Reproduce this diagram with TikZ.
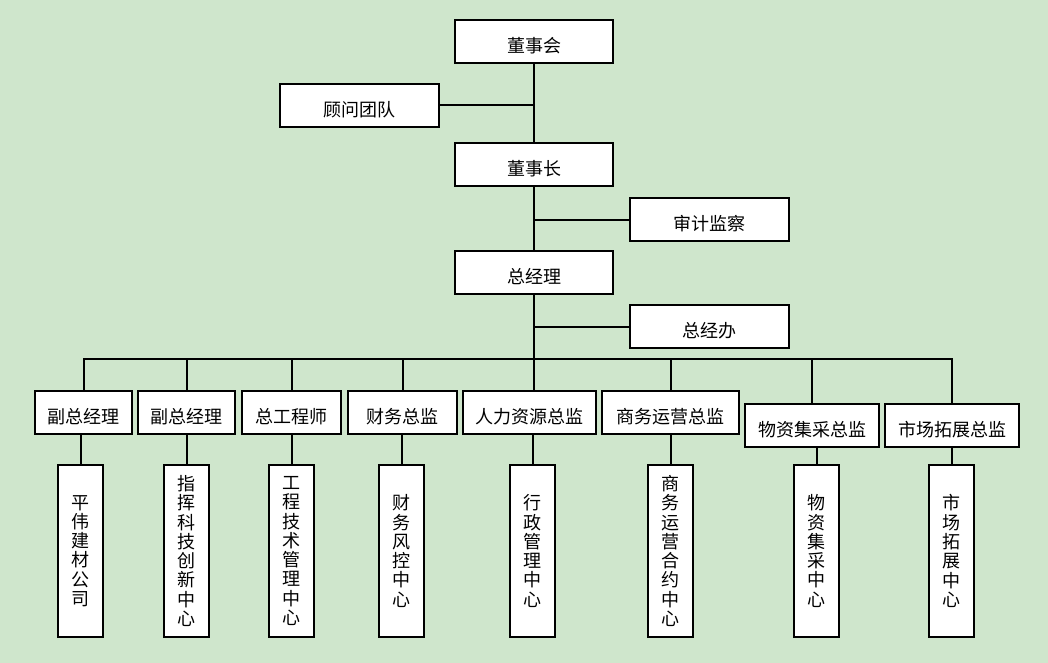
\documentclass[tikz,border=0pt]{standalone}
\usepackage{fontspec}
\setmainfont{Noto Sans CJK SC}
\definecolor{bg}{RGB}{207,230,204}
\begin{document}
\begin{tikzpicture}[x=1pt,y=-1pt,
  box/.style={draw=black, line width=2pt, fill=white, inner sep=0pt, align=center, font=\fontsize{18}{19.3}\selectfont},
  hbox/.style={box, minimum width=#1, minimum height=43pt, text height=22pt, text depth=0pt},
  vbox/.style={box, minimum width=45pt, minimum height=172pt},
  wire/.style={line width=2pt}]
\fill[bg] (0,0) rectangle (1048,663);
\useasboundingbox (0,0) rectangle (1048,663);
% top levels
\node[hbox=158pt] (dsh) at (534,41.5) {董事会};
\node[hbox=159pt] (gw) at (359.5,105.5) {顾问团队};
\node[hbox=158pt] (dsz) at (534,164.5) {董事长};
\node[hbox=159pt] (sj) at (709.5,219.5) {审计监察};
\node[hbox=158pt] (zjl) at (534,272.5) {总经理};
\node[hbox=159pt] (zjb) at (709.5,326.5) {总经办};
% second row
\node[hbox=97pt] (fz1) at (83.5,412.5) {副总经理};
\node[hbox=97pt] (fz2) at (186.5,412.5) {副总经理};
\node[hbox=99pt] (zgc) at (291.5,412.5) {总工程师};
\node[hbox=109pt] (cw) at (402.5,412.5) {财务总监};
\node[hbox=133pt] (rl) at (529.5,412.5) {人力资源总监};
\node[hbox=137pt] (sw) at (670.5,412.5) {商务运营总监};
\node[hbox=134pt] (wz) at (812,425.5) {物资集采总监};
\node[hbox=134pt] (sc) at (952,425.5) {市场拓展总监};
% bottom row
\node[vbox] (b1) at (80.5,551) {平\\伟\\建\\材\\公\\司};
\node[vbox] (b2) at (186.5,551) {指\\挥\\科\\技\\创\\新\\中\\心};
\node[vbox] (b3) at (291.5,551) {工\\程\\技\\术\\管\\理\\中\\心};
\node[vbox] (b4) at (401.5,551) {财\\务\\风\\控\\中\\心};
\node[vbox] (b5) at (532.5,551) {行\\政\\管\\理\\中\\心};
\node[vbox] (b6) at (670.5,551) {商\\务\\运\\营\\合\\约\\中\\心};
\node[vbox] (b7) at (816.5,551) {物\\资\\集\\采\\中\\心};
\node[vbox] (b8) at (951.5,551) {市\\场\\拓\\展\\中\\心};
% connectors
\coordinate (bus) at (534,359);
\draw[wire] (dsh.south) -- (dsz.north);
\draw[wire] (dsz.south) -- (zjl.north);
\draw[wire] (zjl.south) -- (zjl.south |- rl.north);
\draw[wire] (gw.east) -- (gw.east -| dsh.south);
\draw[wire] (sj.west) -- (sj.west -| dsz.south);
\draw[wire] (zjb.west) -- (zjb.west -| zjl.south);
\draw[wire] (fz1.north) |- (bus) -| (sc.north);
\foreach \n in {fz2,zgc,cw,sw,wz} \draw[wire] (\n.north) -- (\n.north |- bus);
\draw[wire] (b1.north) -- (b1.north |- fz1.south);
\draw[wire] (b2.north) -- (b2.north |- fz2.south);
\draw[wire] (b3.north) -- (b3.north |- zgc.south);
\draw[wire] (b4.north) -- (b4.north |- cw.south);
\draw[wire] (b5.north) -- (b5.north |- rl.south);
\draw[wire] (b6.north) -- (b6.north |- sw.south);
\draw[wire] (b7.north) -- (b7.north |- wz.south);
\draw[wire] (b8.north) -- (b8.north |- sc.south);
\end{tikzpicture}
\end{document}
